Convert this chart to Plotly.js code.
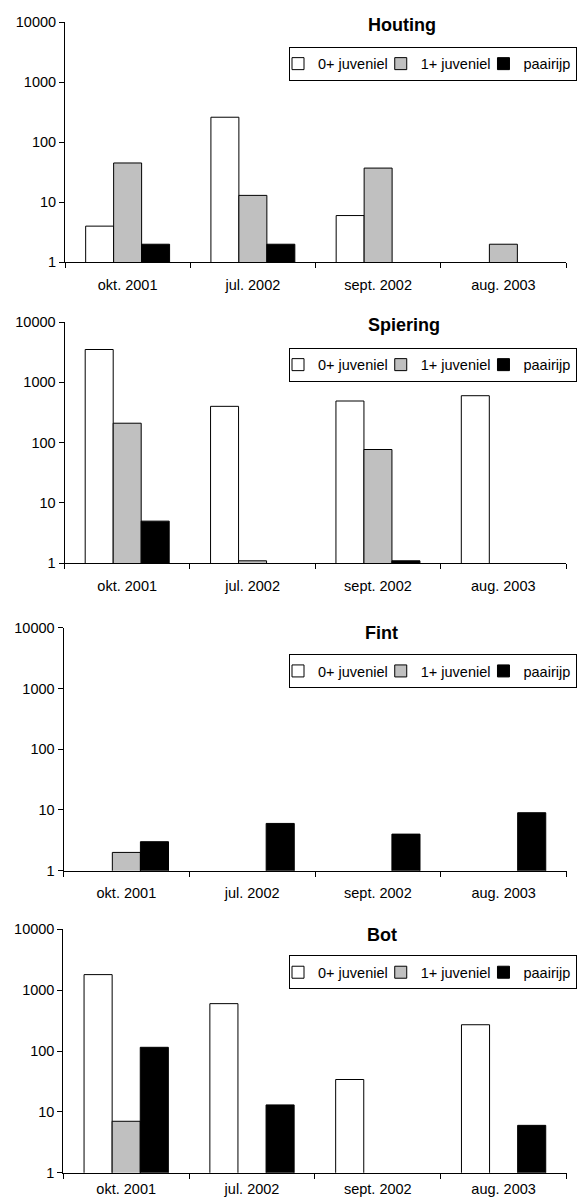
<!DOCTYPE html>
<html>
<head>
<meta charset="utf-8">
<script src="https://cdn.plot.ly/plotly-3.0.1.min.js"></script>
<style>
  html, body { margin: 0; padding: 0; background: #fff; }
  #chart { width: 578px; height: 1201px; }
</style>
</head>
<body>
<div id="chart"></div>
<script>
// ---- data ----
var categories = ['okt. 2001', 'jul. 2002', 'sept. 2002', 'aug. 2003'];
var seriesNames = ['0+ juveniel', '1+ juveniel', 'paairijp'];
var panelTitles = ['Houting', 'Spiering', 'Fint', 'Bot'];

var houting0 = [4, 260, 6, null];
var houting1 = [45, 13, 37, 2];
var houtingP = [2, 2, null, null];

var spiering0 = [3500, 400, 490, 600];
var spiering1 = [210, 1.1, 77, null];
var spieringP = [5, null, 1.1, null];

var fint0 = [null, null, null, null];
var fint1 = [2, null, null, null];
var fintP = [3, 6, 4, 9];

var bot0 = [1800, 600, 34, 270];
var bot1 = [7, null, null, null];
var botP = [115, 13, null, 6];

var yTickVals = [1, 10, 100, 1000, 10000];
var yTickText = ['1', '10', '100', '1000', '10000'];

// ---- styles / layout ----
var W = 578, H = 1201;
var FONT = 'Liberation Sans, Arial, Helvetica, sans-serif';
var seriesColors = ['#ffffff', '#c0c0c0', '#000000'];
var panelData = [
  [houting0, houting1, houtingP],
  [spiering0, spiering1, spieringP],
  [fint0, fint1, fintP],
  [bot0, bot1, botP]
];
// pixel geometry of each plot area: [left, right, top, bottom]
var boxes = [
  [65, 566, 22, 262.3],
  [64.5, 566, 322, 563.3],
  [63.5, 566.5, 627.7, 870.7],
  [63.3, 566.5, 929.3, 1172.7]
];
var xLabelStandoff = [9, 9, 9, 3];
var titleY = [25, 325, 633, 935];
var titleX = [401.5, 404, 381.5, 382];
var legendTop = [46.7, 347.7, 654, 955.3];

var traces = [];
var layout = {
  width: W, height: H,
  margin: {l: 0, r: 0, t: 0, b: 0, autoexpand: false},
  paper_bgcolor: '#ffffff',
  plot_bgcolor: '#ffffff',
  barmode: 'group',
  bargap: 0.33,
  bargroupgap: 0,
  font: {family: FONT, size: 14.5, color: '#000'},
  annotations: [],
  showlegend: true
};

for (var p = 0; p < 4; p++) {
  var sfx = p === 0 ? '' : String(p + 1);
  var legName = 'legend' + sfx;
  for (var s = 0; s < 3; s++) {
    traces.push({
      type: 'bar',
      x: categories,
      y: panelData[p][s],
      name: seriesNames[s],
      xaxis: 'x' + sfx,
      yaxis: 'y' + sfx,
      legend: legName,
      marker: {color: seriesColors[s], line: {color: '#000', width: 1}},
      hoverinfo: 'x+y+name'
    });
  }
  var b = boxes[p];
  layout['xaxis' + sfx] = {
    domain: [b[0] / W, b[1] / W],
    anchor: 'y' + sfx,
    type: 'category',
    showline: true, linecolor: '#000', linewidth: 1,
    ticks: 'outside', tickson: 'boundaries', ticklen: 5, tickcolor: '#000', tickwidth: 1,
    showgrid: false, zeroline: false,
    tickfont: {family: FONT, size: 14.5, color: '#000'},
    ticklabelstandoff: xLabelStandoff[p],
    fixedrange: true
  };
  layout['yaxis' + sfx] = {
    domain: [1 - b[3] / H, 1 - b[2] / H],
    anchor: 'x' + sfx,
    type: 'log',
    range: [0, 4],
    tickvals: yTickVals,
    ticktext: yTickText,
    showline: true, linecolor: '#000', linewidth: 1,
    ticks: 'outside', ticklen: 5, tickcolor: '#000', tickwidth: 1,
    showgrid: false, zeroline: false,
    tickfont: {family: FONT, size: 14.5, color: '#000'},
    ticklabelstandoff: 0,
    fixedrange: true
  };
  layout[legName] = {
    x: 577 / W, xanchor: 'right',
    y: 1 - legendTop[p] / H, yanchor: 'top',
    xref: 'paper', yref: 'paper',
    orientation: 'h',
    bgcolor: '#ffffff',
    bordercolor: '#000', borderwidth: 1,
    itemwidth: 30,
    indentation: -12,
    font: {family: FONT, size: 14.5, color: '#000'},
    traceorder: 'normal',
    itemclick: false, itemdoubleclick: false
  };
  layout.annotations.push({
    text: '<b>' + panelTitles[p] + '</b>',
    xref: 'paper', yref: 'paper',
    x: titleX[p] / W, y: 1 - titleY[p] / H,
    xanchor: 'center', yanchor: 'middle',
    showarrow: false,
    font: {family: FONT, size: 18, color: '#000'}
  });
}

Plotly.newPlot('chart', traces, layout, {displayModeBar: false, staticPlot: true});
</script>
</body>
</html>
